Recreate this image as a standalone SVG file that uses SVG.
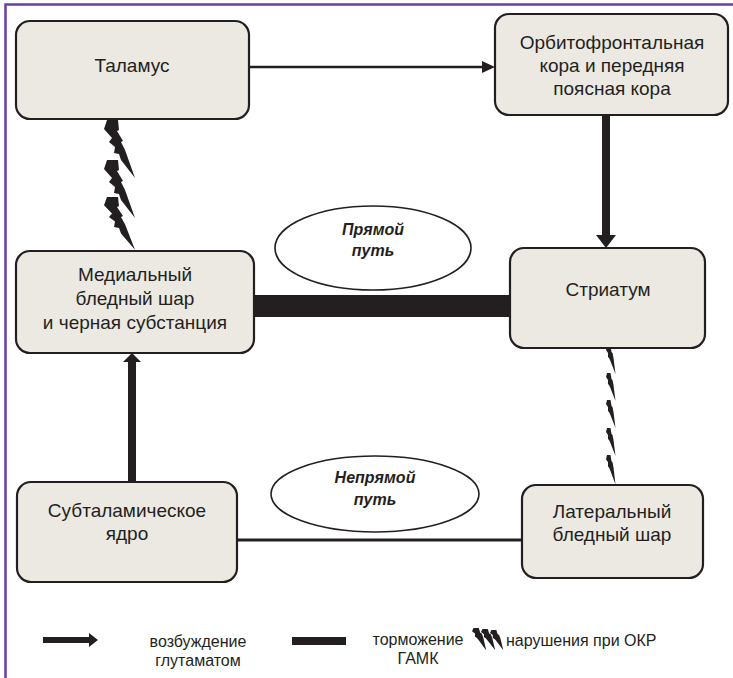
<svg xmlns="http://www.w3.org/2000/svg" width="733" height="678" viewBox="0 0 733 678">
<style>
.box{fill:#ece9e3;stroke:#231f20;stroke-width:2.2}
.lbl{font-family:"Liberation Sans",Arial,sans-serif;font-size:19px;fill:#231f20;text-anchor:middle}
.ell{fill:#fff;stroke:#231f20;stroke-width:1.6}
.elt{font-family:"Liberation Sans",Arial,sans-serif;font-size:16px;font-weight:bold;font-style:italic;fill:#231f20;text-anchor:middle}
.leg{font-family:"Liberation Sans",Arial,sans-serif;font-size:16px;fill:#231f20;text-anchor:middle}
.blk{fill:#231f20}
</style>
<defs>
<path id="bolt" d="M3,0 L14,0 L15,10 L13,11 L19,21 L17,22 L21,30 L31,58 L17,40 L15,34 L10,33 L11,27 L5,22 L8,18 L0,9 Z"/>
<path id="sbolt" d="M1,0 L4.5,0 L5.5,6 L6.5,7 L7.5,12 L9.5,28 L4,14 L3,12 L2,11 L2,7 L0,4 Z"/>
</defs>
<rect x="0" y="0" width="733" height="678" fill="#fff"/>
<rect x="5.5" y="4.5" width="760" height="700" fill="none" stroke="#6b3fa0" stroke-width="2.5"/>

<g id="connectors">
<line x1="249" y1="67" x2="483" y2="67" stroke="#231f20" stroke-width="2.5"/>
<polygon class="blk" points="482,61 495,67 482,73"/>
<rect class="blk" x="602" y="115" width="8" height="122"/>
<polygon class="blk" points="596,235 616,235 606,248"/>
<rect class="blk" x="254" y="295" width="256" height="22"/>
<rect class="blk" x="128" y="360" width="8" height="122"/>
<polygon class="blk" points="123,362 141,362 132,353"/>
<line x1="237" y1="540" x2="522" y2="540" stroke="#231f20" stroke-width="3"/>
<g class="blk">
<use href="#bolt" transform="translate(104,120)"/>
<use href="#bolt" transform="translate(104,160)"/>
<use href="#bolt" transform="translate(104,197) scale(1,0.91)"/>
<use href="#sbolt" transform="translate(606,346)"/>
<use href="#sbolt" transform="translate(606,373)"/>
<use href="#sbolt" transform="translate(606,400)"/>
<use href="#sbolt" transform="translate(606,428)"/>
<use href="#sbolt" transform="translate(606,455) scale(1,1.05)"/>
</g>
</g>

<g id="talamus">
<rect class="box" x="16" y="21" width="233" height="98" rx="14"/>
<text class="lbl" x="132" y="72">Таламус</text>
</g>
<g id="ofc">
<rect class="box" x="495" y="14" width="233" height="101" rx="14"/>
<text class="lbl" x="612" y="49">Орбитофронтальная</text>
<text class="lbl" x="612" y="72">кора и передняя</text>
<text class="lbl" x="612" y="95">поясная кора</text>
</g>
<g id="medial">
<rect class="box" x="16" y="251" width="238" height="102" rx="14"/>
<text class="lbl" x="135" y="281">Медиальный</text>
<text class="lbl" x="135" y="305">бледный шар</text>
<text class="lbl" x="135" y="329">и черная субстанция</text>
</g>
<g id="striatum">
<rect class="box" x="510" y="248" width="195" height="100" rx="14"/>
<text class="lbl" x="608" y="296">Стриатум</text>
</g>
<g id="subthalamic">
<rect class="box" x="17" y="482" width="220" height="100" rx="14"/>
<text class="lbl" x="127" y="517">Субталамическое</text>
<text class="lbl" x="127" y="540">ядро</text>
</g>
<g id="lateral">
<rect class="box" x="522" y="485" width="181" height="93" rx="14"/>
<text class="lbl" x="612" y="518">Латеральный</text>
<text class="lbl" x="612" y="541">бледный шар</text>
</g>
<g id="direct">
<ellipse class="ell" cx="373" cy="248" rx="98" ry="42"/>
<text class="elt" x="373" y="235">Прямой</text>
<text class="elt" x="373" y="256">путь</text>
</g>
<g id="indirect">
<ellipse class="ell" cx="375" cy="494" rx="104" ry="38"/>
<text class="elt" x="375" y="483">Непрямой</text>
<text class="elt" x="375" y="505">путь</text>
</g>

<g id="legend">
<rect class="blk" x="43" y="637" width="48" height="6"/>
<polygon class="blk" points="89,633 98,640 89,647"/>
<text class="leg" x="198" y="647">возбуждение</text>
<text class="leg" x="198" y="666">глутаматом</text>
<rect class="blk" x="292" y="637" width="54" height="8"/>
<text class="leg" x="418" y="645">торможение</text>
<text class="leg" x="418" y="664">ГАМК</text>
<g class="blk">
<use href="#sbolt" transform="translate(472,628) scale(1.5,0.8)"/>
<use href="#sbolt" transform="translate(481,629) scale(1.5,0.76)"/>
<use href="#sbolt" transform="translate(490,630) scale(1.4,0.72)"/>
</g>
<text class="leg" x="506" y="646" style="text-anchor:start">нарушения при ОКР</text>
</g>
</svg>
